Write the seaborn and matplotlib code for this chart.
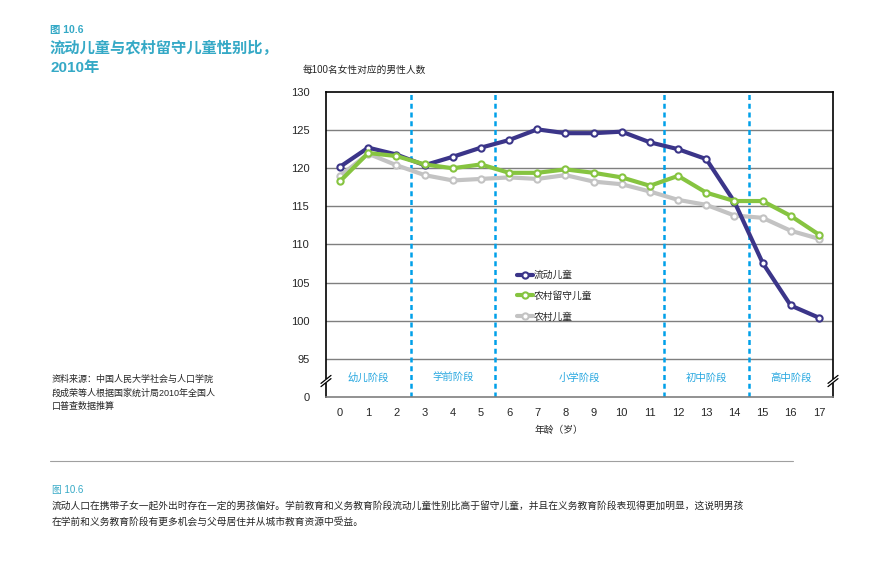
import pandas as pd
import matplotlib.pyplot as plt
import seaborn as sns

# Values (sex ratio, boys per 100 girls)
ages = list(range(18))
migrant = [120.2, 122.7, 121.8, 120.4, 121.5, 122.7, 123.7, 125.1, 124.6, 124.6,
           124.8, 123.4, 122.5, 121.2, 115.6, 107.6, 102.0, 100.4]
left_behind = [118.3, 122.0, 121.6, 120.5, 120.0, 120.5, 119.4, 119.4, 119.85, 119.4,
               118.8, 117.7, 119.0, 116.8, 115.7, 115.7, 113.75, 111.3]
rural = [119.0, 121.9, 120.4, 119.1, 118.4, 118.6, 118.8, 118.6, 119.1, 118.25,
         117.9, 116.95, 115.85, 115.2, 113.8, 113.5, 111.8, 110.75]
series_names = ['流动儿童', '农村留守儿童', '农村儿童']
stage_names = ['幼儿阶段', '学前阶段', '小学阶段', '初中阶段', '高中阶段']
stage_centers = [1, 4, 8.5, 13, 16]
stage_bounds = [2.5, 5.5, 11.5, 14.5]
ytick_values = [90, 95, 100, 105, 110, 115, 120, 125, 130]
ytick_labels = ['0', '95', '100', '105', '110', '115', '120', '125', '130']

sns.set_style('white')
plt.rcParams['font.family'] = ['Liberation Sans', 'Noto Sans CJK SC', 'DejaVu Sans']

teal = '#35a9c6'
stage_blue = '#29a8e0'
colors = {'流动儿童': '#3b3589', '农村留守儿童': '#86c440', '农村儿童': '#c3c3c3'}

df = pd.DataFrame({
    'age': ages * 3,
    'ratio': migrant + left_behind + rural,
    'group': [series_names[0]] * 18 + [series_names[1]] * 18 + [series_names[2]] * 18,
})

fig = plt.figure(figsize=(8.96, 5.66), dpi=100)
ax = fig.add_axes([326 / 896, 1 - 397 / 566, (833 - 326) / 896, (397 - 92) / 566])

# grid lines first
for v in [95, 100, 105, 110, 115, 120, 125]:
    ax.axhline(v, color='#7f7f7f', lw=1, zorder=1)

for name, z in [('农村儿童', 3), ('流动儿童', 4), ('农村留守儿童', 5)]:
    sub = df[df['group'] == name]
    sns.lineplot(data=sub, x='age', y='ratio', ax=ax, color=colors[name], lw=3,
                 marker='o', markersize=4.5, markerfacecolor='white',
                 markeredgecolor=colors[name], markeredgewidth=1.5,
                 label=name, zorder=z)

for b in stage_bounds:
    ax.axvline(b, color='#00a0e9', lw=1.8, ls=(0, (2, 1.5)), zorder=2)

for c, s in zip(stage_centers, stage_names):
    ax.text(c, 92.5, s, color=stage_blue, fontsize=7.5, ha='center', va='center')

ax.set_xlim(-0.5, 17.5)
ax.set_ylim(90, 130)
ax.set_xticks(ages)
ax.set_xticklabels([str(a) for a in ages], fontsize=8)
ax.set_xticks([a + 0.5 for a in ages[:-1]], minor=True)
ax.set_yticks(ytick_values)
ax.set_yticklabels(ytick_labels, fontsize=8)
ax.tick_params(axis='x', which='major', length=0, pad=8)
ax.tick_params(axis='x', which='minor', length=4, direction='in', color='#7f7f7f', width=1)
ax.tick_params(axis='y', length=0, pad=12)
ax.set_xlabel('年龄（岁）', fontsize=7)
ax.xaxis.set_label_coords(0.46, -0.09)
ax.set_ylabel('')

for side in ['left', 'right', 'top']:
    ax.spines[side].set_color('black')
    ax.spines[side].set_linewidth(1.2)
    ax.spines[side].set_visible(True)
ax.spines['bottom'].set_color('#7f7f7f')
ax.spines['bottom'].set_linewidth(1.2)

# axis break marks on both spines
yb = (397 - 381) / (397 - 92)
dy = 4 / 305
dx = 5 / 507
for xb in [0.0, 1.0]:
    ax.add_patch(plt.Rectangle((xb - 0.003, yb - dy * 0.4), 0.006, dy * 0.8,
                               transform=ax.transAxes, facecolor='white',
                               edgecolor='none', clip_on=False, zorder=6))
    for off in [-dy * 0.4, dy * 0.4]:
        ax.plot([xb - dx, xb + dx], [yb + off - dy, yb + off + dy],
                transform=ax.transAxes, color='black', lw=0.9, clip_on=False, zorder=7)

h, l = ax.get_legend_handles_labels()
order = [l.index(n) for n in series_names]
ax.legend([h[i] for i in order], [l[i] for i in order], loc='upper left',
          bbox_to_anchor=(0.36, 0.445), frameon=False, fontsize=7,
          handlelength=1.6, handletextpad=0.1, labelspacing=1.1)

fig.text(303 / 896, 1 - 70 / 566, '每100名女性对应的男性人数', fontsize=7, va='center')

fig.text(50 / 896, 1 - 30 / 566, '图 10.6', fontsize=7.5, color=teal, weight='bold', va='center')
fig.text(50 / 896, 1 - 58 / 566, '流动儿童与农村留守儿童性别比，\n2010年', fontsize=11,
         color=teal, weight='bold', va='center', linespacing=1.5)

fig.text(52 / 896, 1 - 393 / 566,
         '资料来源：中国人民大学社会与人口学院\n段成荣等人根据国家统计局2010年全国人\n口普查数据推算',
         fontsize=6.5, va='center', linespacing=1.6)

fig.add_artist(plt.Line2D([50 / 896, 793 / 896], [1 - 461 / 566, 1 - 461 / 566],
                          color='#a0a0a0', lw=0.8))
fig.text(52 / 896, 1 - 490 / 566, '图 10.6', fontsize=7, color=teal, va='center')
fig.text(52 / 896, 1 - 514 / 566,
         '流动人口在携带子女一起外出时存在一定的男孩偏好。学前教育和义务教育阶段流动儿童性别比高于留守儿童，并且在义务教育阶段表现得更加明显，这说明男孩\n'
         '在学前和义务教育阶段有更多机会与父母居住并从城市教育资源中受益。',
         fontsize=7, va='center', linespacing=1.6)

fig.savefig('out.png', dpi=100)
